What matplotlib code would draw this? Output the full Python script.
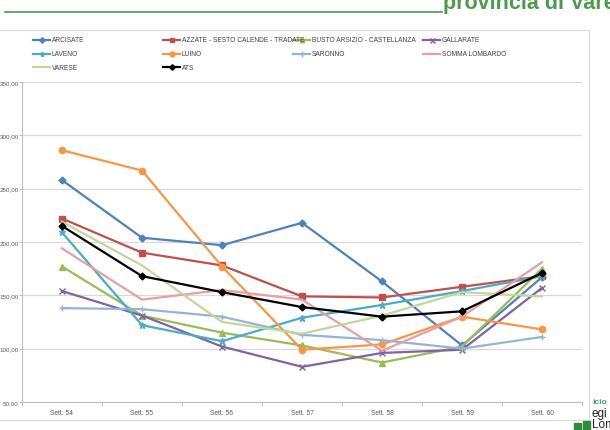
import matplotlib.pyplot as plt
from matplotlib.lines import Line2D
from matplotlib.patches import Rectangle

plt.rcParams['font.family'] = ['Liberation Sans Narrow', 'Liberation Sans', 'DejaVu Sans']

weeks = ['Sett. 54', 'Sett. 55', 'Sett. 56', 'Sett. 57', 'Sett. 58', 'Sett. 59', 'Sett. 60']
arcisate = [258, 204, 197, 218, 163, 103, 167]
azzate = [222, 190, 178, 149, 148, 158, 168]
busto = [177, 131, 115, 103, 87, 102, 175]
gallarate = [154, 131, 102, 83, 96, 99, 157]
laveno = [209, 122, 107, 129, 141, 154, 168]
luino = [286, 267, 177, 99, 104, 130, 118]
saronno = [138, 137, 130, 113, 108, 100, 111]
somma = [194, 146, 155, 146, 98, 130, 181]
varese = [219, 178, 125, 114, 131, 153, 149]
ats = [215, 168, 153, 139, 130, 135, 171]

names = ['ARCISATE', 'AZZATE - SESTO CALENDE - TRADATE', 'BUSTO ARSIZIO - CASTELLANZA', 'GALLARATE',
         'LAVENO', 'LUINO', 'SARONNO', 'SOMMA LOMBARDO', 'VARESE', 'ATS']
series = [arcisate, azzate, busto, gallarate, laveno, luino, saronno, somma, varese, ats]
colors = ['#4F81BD', '#C0504D', '#9BBB59', '#8064A2', '#4BACC6', '#F79646', '#95B3D7', '#E6A0A2', '#C3D69B', '#000000']
markers = ['D', 's', '^', 'x', '*', 'o', '+', '', '', 'D']
msizes = [3.5, 4, 4, 4.5, 4.5, 4.5, 5, 0, 0, 3.5]

W, H = 610, 431
def fx(px):
    return px / W
def fy(py):
    return 1 - py / H

fig = plt.figure(figsize=(6.1, 4.31), dpi=100)
fig.patch.set_facecolor('white')

# header line and title
fig.add_artist(Line2D([fx(5), fx(442)], [fy(13), fy(13)], color='#4E9A4E', lw=1.2))
fig.text(fx(443), fy(8.5), 'provincia di Varese', color='#4E9A4E', fontsize=15.5, fontweight='bold',
         family=['Liberation Sans', 'DejaVu Sans'], ha='left', va='baseline')

# chart box
fig.add_artist(Rectangle((fx(-5), fy(421)), fx(594), fy(30.5) - fy(421), fill=False,
                         edgecolor='#D9D9D9', lw=0.8))

ax = fig.add_axes([fx(22), fy(403), fx(582) - fx(22), fy(83) - fy(403)])
x = list(range(len(weeks)))
for s, c, m, ms in zip(series, colors, markers, msizes):
    ax.plot(x, s, color=c, lw=1.6, marker=m if m else None, markersize=ms,
            markeredgewidth=1.0, zorder=3)

ax.set_xlim(-0.5, 6.5)
ax.set_ylim(50, 350)
ax.set_yticks(range(50, 351, 50))
ax.set_yticklabels([f'{v},00' for v in range(50, 351, 50)], fontsize=4.5, color='#595959',
                   family=['Liberation Sans', 'DejaVu Sans'])
ax.set_xticks(x)
ax.set_xticklabels(weeks, fontsize=4.8, color='#595959')
ax.set_xticks([i - 0.5 for i in range(len(weeks) + 1)], minor=True)
ax.tick_params(axis='x', which='major', length=0, pad=5)
ax.tick_params(axis='x', which='minor', length=3, color='#BFBFBF', width=0.8)
ax.tick_params(axis='y', length=2, color='#BFBFBF', width=0.8, pad=0.4)
ax.grid(axis='y', color='#D9D9D9', lw=0.9)
ax.set_axisbelow(True)
for sp in ['top', 'right']:
    ax.spines[sp].set_visible(False)
ax.spines['left'].set_color('#BFBFBF')
ax.spines['bottom'].set_color('#BFBFBF')
ax.spines['left'].set_linewidth(0.8)
ax.spines['bottom'].set_linewidth(0.8)

# legend, Excel-style row-wise layout
for i, (n, c, m, ms) in enumerate(zip(names, colors, markers, msizes)):
    row, col = i // 4, i % 4
    x0 = 33 + col * 130
    y0 = 41 + row * 13.5
    fig.add_artist(Line2D([fx(x0), fx(x0 + 17)], [fy(y0), fy(y0)], color=c, lw=1.6))
    if m:
        fig.add_artist(Line2D([fx(x0 + 8.5)], [fy(y0)], color=c, marker=m, markersize=ms * 0.8,
                              markeredgewidth=1.0, linestyle='none'))
    fig.text(fx(x0 + 19), fy(y0), n, fontsize=4.8, color='#404040', va='center', ha='left')

# bottom right fragments
fig.text(fx(592), fy(403), 'icio', color='#3BAA5A', fontsize=6, fontweight='bold', va='center')
fig.text(fx(591), fy(414), 'egi', color='#222222', fontsize=8.5, va='center')
fig.text(fx(592), fy(425), 'Lomb', color='#222222', fontsize=8.5, va='center')
fig.add_artist(Rectangle((fx(574), fy(431)), fx(7), fy(424) - fy(431), color='#2E8B3A'))
fig.add_artist(Rectangle((fx(583), fy(431)), fx(7), fy(422) - fy(431), color='#2E8B3A'))

fig.savefig('out.png', dpi=100)
